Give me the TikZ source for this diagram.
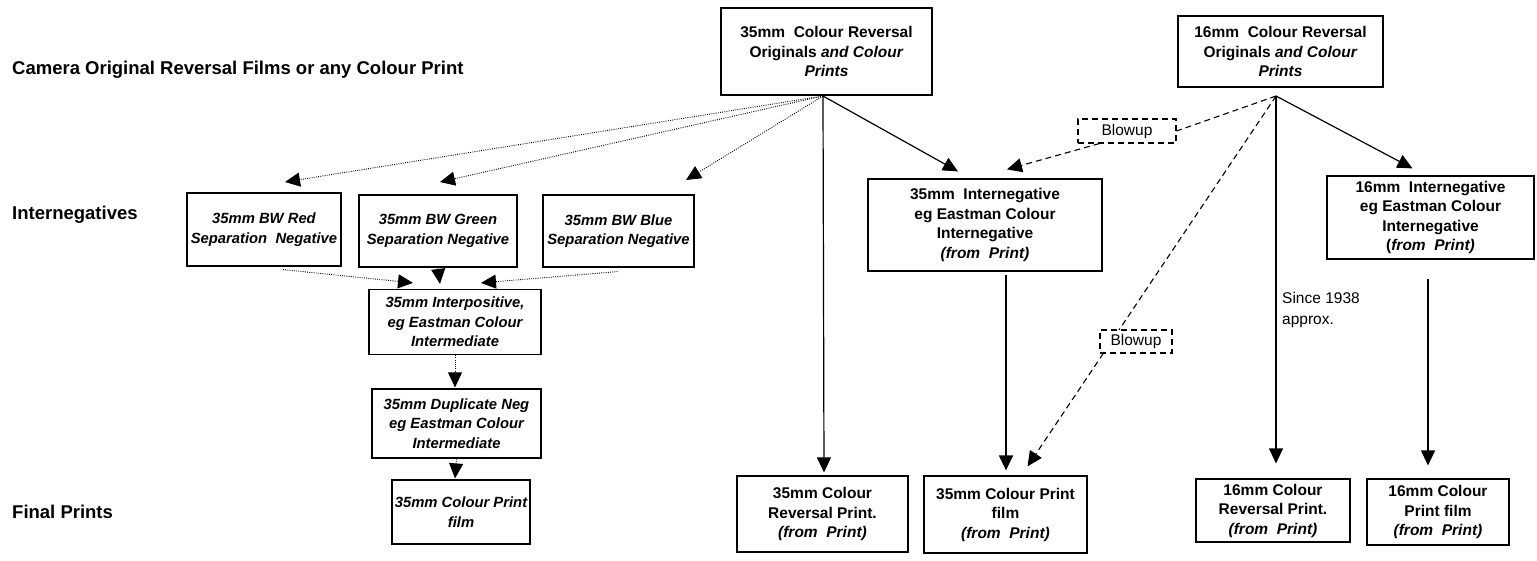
\documentclass[tikz,border=0pt]{standalone}
\usepackage{fontspec}
\setmainfont{Liberation Sans}
\usetikzlibrary{arrows.meta,calc}
\newcommand\bxfont{\fontsize{15.5}{19.5}\selectfont\bfseries}
\newcommand\itbxfont{\fontsize{14.8}{19.5}\selectfont\bfseries\itshape}
\newcommand\lblfont{\fontsize{18.5}{22}\selectfont\bfseries}
\newcommand\notefont{\fontsize{15.5}{21}\selectfont}
\begin{document}
\begin{tikzpicture}[x=1pt,y=-1pt,
  box/.style={draw, line width=1.2pt, fill=white, align=center, inner sep=0pt, font=\bxfont},
  itbox/.style={box, font=\itbxfont},
  dbox/.style={draw, line width=1.1pt, dash pattern=on 6pt off 4pt, fill=white, inner sep=0pt, font=\notefont},
  lbl/.style={anchor=west, inner sep=0pt, font=\lblfont},
  tip/.style={-{Triangle[length=15pt,width=14pt]}},
  solidline/.style={line width=1.2pt, tip},
  dotline/.style={line width=0.9pt, dash pattern=on 0.9pt off 1.3pt, tip},
  dashline/.style={line width=1.1pt, dash pattern=on 6pt off 4pt, tip}]
\useasboundingbox (0,0) rectangle (1537,560);

% row labels
\node[lbl] (l1) at (12,70) {Camera Original Reversal Films or any Colour Print};
\node[lbl] (l2) at (12,215) {Internegatives};
\node[lbl] (l3) at (12,512) {Final Prints};

% source originals
\node[box, minimum width=211pt, minimum height=87pt] (A) at (826.5,51.5)
  {35mm\ \ Colour Reversal\\Originals \textit{and Colour}\\\textit{Prints}};
\node[box, minimum width=205pt, minimum height=71pt] (B) at (1280.5,51.5)
  {16mm\ \ Colour Reversal\\Originals \textit{and Colour}\\\textit{Prints}};

% separation negatives
\node[itbox, minimum width=154pt, minimum height=73pt] (red) at (264,229.5)
  {35mm BW Red\\Separation\ \ Negative};
\node[itbox, minimum width=158pt, minimum height=72pt] (green) at (438,231)
  {35mm BW Green\\Separation Negative};
\node[itbox, minimum width=151pt, minimum height=72pt] (blue) at (618.5,231)
  {35mm BW Blue\\Separation Negative};

% intermediates
\node[itbox, minimum width=172pt, minimum height=65pt] (ipos) at (455,322)
  {35mm Interpositive,\\eg Eastman Colour\\Intermediate};
\node[itbox, minimum width=169pt, minimum height=69pt] (dup) at (456.5,423.5)
  {35mm Duplicate Neg\\eg Eastman Colour\\Intermediate};
\node[itbox, minimum width=138pt, minimum height=64pt] (cpf) at (461,512)
  {35mm Colour Print\\film};

% internegatives
\node[box, minimum width=234pt, minimum height=92pt] (C) at (985,225)
  {35mm\ \ Internegative\\eg Eastman Colour\\Internegative\\\textit{(from\ \ Print)}};
\node[box, minimum width=207pt, minimum height=83pt] (D) at (1430.5,217.5)
  {16mm\ \ Internegative\\eg Eastman Colour\\Internegative\\(\textit{from\ \ Print)}};

% final prints
\node[box, minimum width=171pt, minimum height=76pt] (E) at (822.5,514)
  {35mm Colour\\Reversal Print.\\\textit{(from\ \ Print)}};
\node[box, minimum width=163pt, minimum height=77pt] (F) at (1005.5,514.5)
  {35mm Colour Print\\film\\\textit{(from\ \ Print)}};
\node[box, minimum width=154pt, minimum height=63pt] (G) at (1273,510.5)
  {16mm Colour\\Reversal Print.\\\textit{(from\ \ Print)}};
\node[box, minimum width=142pt, minimum height=66pt] (H) at (1438,512)
  {16mm Colour\\Print film\\\textit{(from\ \ Print)}};

% arrow end points
\coordinate (redIn) at (285,182);
\coordinate (greenIn) at (440,182);
\coordinate (blueIn) at (686,180);
\coordinate (Aout) at (823,96);
\coordinate (Bout) at (1276,96);

% 35mm originals fan-out
\draw[dotline] (Aout) -- (redIn);
\draw[dotline] (Aout) -- (greenIn);
\draw[dotline] (Aout) -- (blueIn);
\draw[solidline] (Aout) -- ($(E.north)+(1.5,-3)$);
\draw[solidline] (Aout) -- ($(C.north)+(-27,-7)$);

% separations into the interpositive
\draw[dotline] ($(red.south)+(19,3)$) -- ($(ipos.north)+(-42,-6)$);
\draw[dotline] (green.south) -- ($(ipos.north)+(-15,-5)$);
\draw[dotline] ($(blue.south)+(-1,4)$) -- ($(ipos.north)+(26,-6)$);
\draw[dotline] (ipos.south) -- ($(dup.north)+(-1.5,-1)$);
\draw[dotline] (dup.south) -- ($(cpf.north)+(-6,-1)$);

% 16mm originals
\draw[solidline] (Bout) -- ($(G.north)+(3,-15)$);
\draw[solidline] (Bout) -- ($(D.north)+(-18,-7)$);
\draw[dashline] (Bout) -- ($(F.north)+(22,-9)$);
\node[dbox, minimum width=98pt, minimum height=24pt] (bu1) at (1127,131) {Blowup};
\draw[line width=1.1pt, dash pattern=on 6pt off 4pt] (Bout) -- (bu1.east);
\draw[dashline] ($(bu1.south west)+(22,0)$) -- ($(C.north)+(22,-9)$);
\node[dbox, minimum width=72pt, minimum height=23pt] (bu2) at (1136,341.5) {Blowup};

% internegatives to prints
\draw[solidline] ($(C.south)+(21,3)$) -- ($(F.north)+(0.5,-5)$);
\draw[solidline] ($(D.south)+(-2.5,19)$) -- ($(H.north)+(-10,-13)$);

\node[anchor=north west, inner sep=0pt, align=left, font=\notefont] (since) at (1282,292) {Since 1938\\approx.};
\end{tikzpicture}
\end{document}
